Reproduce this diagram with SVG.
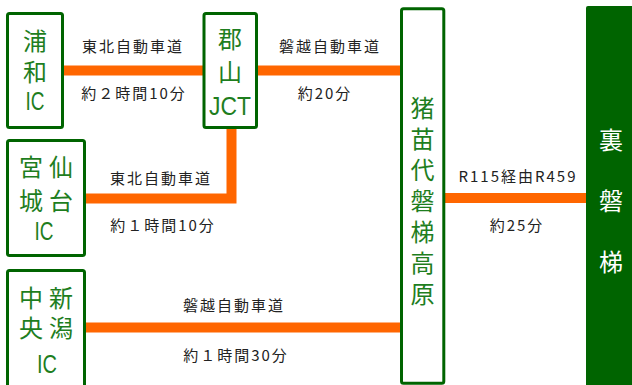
<svg xmlns="http://www.w3.org/2000/svg" width="632" height="385" viewBox="0 0 632 385">
<style>
.box{fill:#fff;stroke:#006400;stroke-width:3}
.nt{font-family:"Noto Sans CJK JP","Noto Sans",sans-serif;font-size:24px;fill:#1e7e1e}
.v{writing-mode:vertical-rl;text-anchor:start}
.lat{font-family:"Liberation Sans","Noto Sans",sans-serif;font-size:26px;fill:#1e7e1e;text-anchor:middle}
.wt{font-family:"Noto Sans CJK JP",sans-serif;font-size:24px;fill:#fff}
.lb{font-family:"Noto Sans CJK JP","Noto Sans",sans-serif;font-size:15px;fill:#222;text-anchor:middle;letter-spacing:2px}
.road{stroke:#ff6600;stroke-width:10;fill:none}
</style>
<rect width="632" height="385" fill="#fff"/>
<g id="connectors">
<line class="road" x1="63" y1="70.5" x2="204" y2="70.5"/>
<line class="road" x1="256" y1="70.5" x2="402" y2="70.5"/>
<polyline class="road" points="85,198.5 231.5,198.5 231.5,128"/>
<line class="road" x1="85" y1="327.5" x2="402" y2="327.5"/>
<line class="road" x1="444" y1="198" x2="590" y2="198"/>
<text class="lb" x="133" y="52">東北自動車道</text>
<text class="lb" x="134" y="99">約２時間10分</text>
<text class="lb" x="330" y="52">磐越自動車道</text>
<text class="lb" x="325" y="99">約20分</text>
<text class="lb" x="161" y="184">東北自動車道</text>
<text class="lb" x="163" y="231">約１時間10分</text>
<text class="lb" x="234" y="311">磐越自動車道</text>
<text class="lb" x="236" y="361">約１時間30分</text>
<text class="lb" x="518" y="182">R115経由R459</text>
<text class="lb" x="517" y="231">約25分</text>
</g>
<g id="urawa">
<rect class="box" x="7.5" y="13.5" width="55" height="114" rx="2"/>
<text class="nt v" x="35" y="29" letter-spacing="7">浦和</text>
<text class="lat" x="35" y="110" textLength="19" lengthAdjust="spacingAndGlyphs">IC</text>
</g>
<g id="koriyama">
<rect class="box" x="204" y="13.5" width="52.5" height="114" rx="2"/>
<text class="nt v" x="230" y="27" letter-spacing="9">郡山</text>
<text class="lat" x="230" y="115" textLength="42" lengthAdjust="spacingAndGlyphs">JCT</text>
</g>
<g id="miyagi">
<rect class="box" x="7.5" y="140.5" width="77" height="115" rx="2"/>
<text class="nt v" x="61" y="155" letter-spacing="10">仙台</text>
<text class="nt v" x="31" y="155" letter-spacing="10">宮城</text>
<text class="lat" x="44" y="240" textLength="19" lengthAdjust="spacingAndGlyphs">IC</text>
</g>
<g id="nakaniigata">
<rect class="box" x="7.5" y="270.5" width="77" height="125" rx="2"/>
<text class="nt v" x="61" y="286" letter-spacing="6">新潟</text>
<text class="nt v" x="31" y="286" letter-spacing="6">中央</text>
<text class="lat" x="47" y="373" textLength="20" lengthAdjust="spacingAndGlyphs">IC</text>
</g>
<g id="inawashiro">
<rect class="box" x="401.5" y="8.8" width="42.3" height="374.5" rx="2"/>
<text class="nt v" x="422.5" y="96" letter-spacing="7">猪苗代磐梯高原</text>
</g>
<g id="urabandai">
<rect x="586" y="6" width="50" height="385" rx="2" fill="#006400"/>
<text class="wt v" x="611" y="128" letter-spacing="37">裏磐梯</text>
</g>
</svg>
